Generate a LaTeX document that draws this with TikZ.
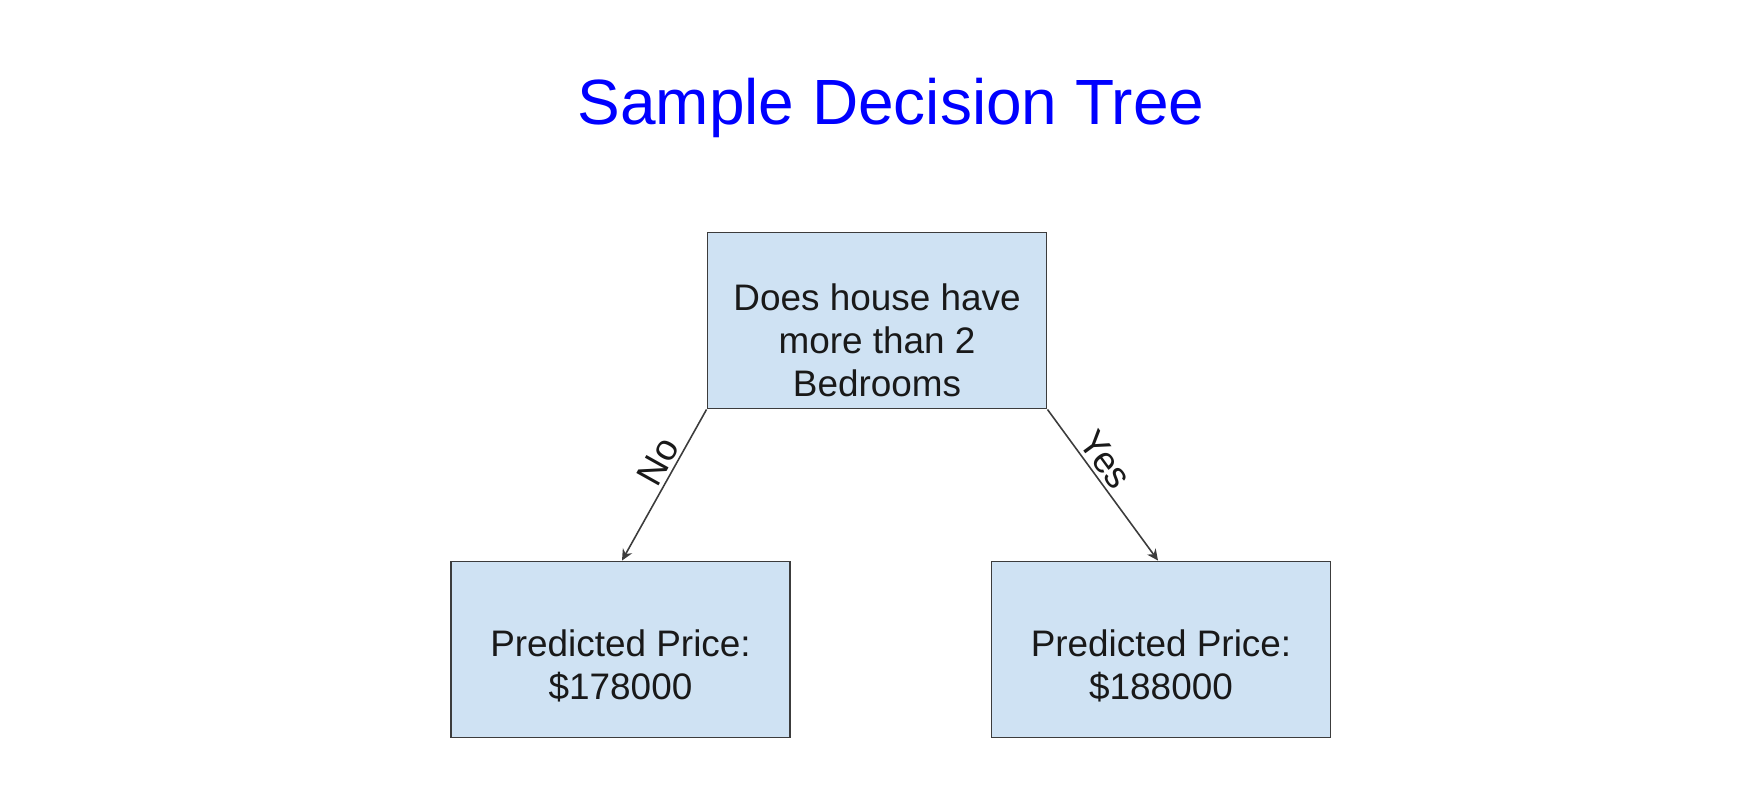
\documentclass[tikz,border=0pt]{standalone}
\usepackage{fontspec}
\setmainfont{Liberation Sans}
\usepackage{tikz}
\usetikzlibrary{arrows.meta, positioning}
\definecolor{dtblue}{HTML}{0000FF}
\definecolor{dtfill}{HTML}{CFE2F3}
\definecolor{dtline}{HTML}{3C3C3C}

\begin{document}
\begin{tikzpicture}[
  box/.style={draw=dtline, fill=dtfill, line width=0.55pt, minimum width=3.39cm,
              minimum height=1.76cm, inner sep=0pt},
  boxtext/.style={align=center, font=\fontsize{10.5}{12.2}\selectfont, text=black!90},
  branch/.style={-{Stealth[length=3.2pt, width=3pt]}, draw=dtline, line width=0.45pt},
  branchlabel/.style={font=\fontsize{10.5}{12}\selectfont, text=black!90, sloped, inner sep=1pt},
]
  \useasboundingbox (0,0) rectangle (17.5,-7.94);

  \node[font=\fontsize{18.2}{22}\selectfont, text=dtblue] (title) at (8.91,-1.08) {Sample Decision Tree};

  \node[box] (root) at (8.77,-3.205) {};
  \node[box] (left) at (6.205,-6.495) {};
  \node[box] (right) at (11.61,-6.495) {};

  \node[boxtext, yshift=-0.2cm] (roottxt) at (root.center) {
    Does house have\\
    more than 2\\
    Bedrooms
  };
  \node[boxtext, yshift=-0.16cm] (lefttxt) at (left.center) {
    Predicted Price:\\
    \$178000
  };
  \node[boxtext, yshift=-0.16cm] (righttxt) at (right.center) {
    Predicted Price:\\
    \$188000
  };

  \draw[branch] (root.south west) -- ([xshift=0.015cm]left.north)
    node[branchlabel, pos=0.4, above] (no) {No};
  \draw[branch] (root.south east) -- ([xshift=-0.03cm]right.north)
    node[branchlabel, pos=0.4, above] (yes) {Yes};
\end{tikzpicture}
\end{document}
